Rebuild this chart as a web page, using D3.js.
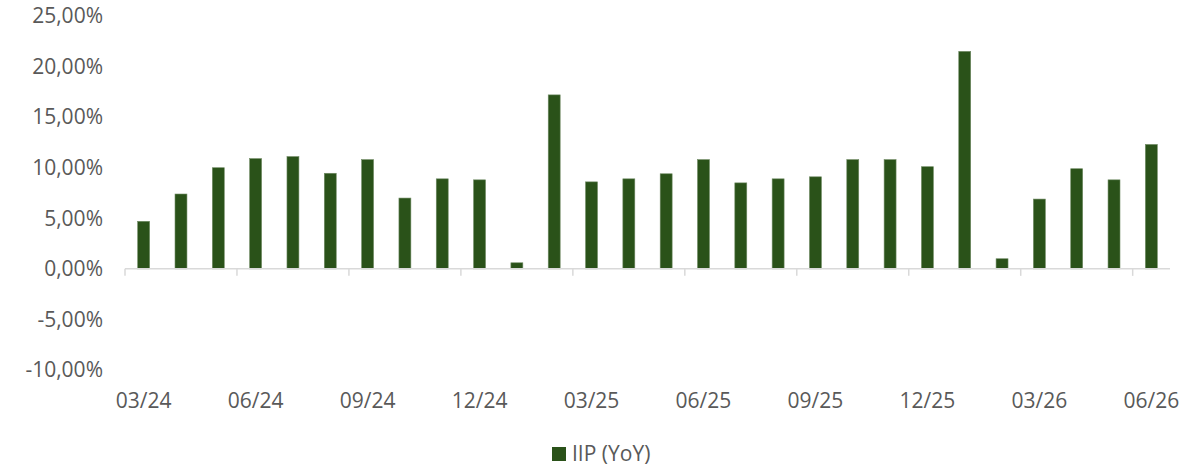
<!DOCTYPE html>
<html>
<head>
<meta charset="utf-8">
<script src="https://cdn.jsdelivr.net/npm/d3@7"></script>
<style>
  body { margin: 0; background: #fff; }
  text { font-family: "Open Sans", "Liberation Sans", sans-serif; fill: #595959; }
</style>
</head>
<body>
<svg id="chart" width="1198" height="468"></svg>
<script>
// monthly categories, 03/24 .. 06/26
var months = ["03/24","04/24","05/24","06/24","07/24","08/24","09/24","10/24","11/24","12/24",
              "01/25","02/25","03/25","04/25","05/25","06/25","07/25","08/25","09/25","10/25",
              "11/25","12/25","01/26","02/26","03/26","04/26","05/26","06/26"];
// IIP year-on-year change, percent
var iipYoY = [4.7, 7.4, 10.0, 10.9, 11.1, 9.45, 10.8, 7.0, 8.9, 8.8,
              0.6, 17.2, 8.6, 8.9, 9.4, 10.8, 8.5, 8.9, 9.1, 10.8,
              10.8, 10.1, 21.5, 1.0, 6.9, 9.9, 8.8, 12.3];
var yTicks = [-10, -5, 0, 5, 10, 15, 20, 25];
var seriesName = "IIP (YoY)";

var svg = d3.select("#chart");
var plotLeft = 125, plotRight = 1170, plotTop = 16, plotBottom = 370;
var barColor = "#2a5219";
var fontSize = "21px";

// comma decimals, plain hyphen for negatives
var locale = d3.formatLocale({decimal: ",", thousands: ".", grouping: [3], currency: ["", ""], minus: "-"});
var fmt = function(v) { return locale.format(".2f")(v) + "%"; };

var x = d3.scaleBand()
    .domain(months)
    .range([plotLeft, plotRight])
    .paddingInner(0.68)
    .paddingOuter(0.34);

var y = d3.scaleLinear()
    .domain([-10, 25])
    .range([plotBottom, plotTop]);

// y labels (no axis line, no gridlines)
svg.append("g")
  .selectAll("text")
  .data(yTicks)
  .enter().append("text")
    .attr("x", 103)
    .attr("y", function(d) { return y(d); })
    .attr("dy", "0.35em")
    .attr("text-anchor", "end")
    .style("font-size", fontSize)
    .text(fmt);

// bars
svg.append("g")
  .selectAll("rect")
  .data(iipYoY)
  .enter().append("rect")
    .attr("x", function(d, i) { return x(months[i]); })
    .attr("width", x.bandwidth())
    .attr("y", function(d) { return y(Math.max(0, d)); })
    .attr("height", function(d) { return Math.abs(y(d) - y(0)); })
    .attr("fill", barColor)
    .attr("stroke", "#6f8a63")
    .attr("stroke-width", 0.6);

// category axis at zero
var step = x.step();
var ax = svg.append("g");
ax.append("line")
    .attr("x1", plotLeft).attr("x2", plotRight)
    .attr("y1", y(0)).attr("y2", y(0))
    .attr("stroke", "#d9d9d9").attr("stroke-width", 1.5);

var tickIdx = months.map(function(m, i) { return i; }).filter(function(i) { return i % 3 === 0; });
ax.selectAll("line.tick")
  .data(tickIdx)
  .enter().append("line")
    .attr("class", "tick")
    .attr("x1", function(i) { return x(months[i]) - step * 0.34; })
    .attr("x2", function(i) { return x(months[i]) - step * 0.34; })
    .attr("y1", y(0)).attr("y2", y(0) + 7)
    .attr("stroke", "#d9d9d9").attr("stroke-width", 1.5);

ax.selectAll("text")
  .data(tickIdx)
  .enter().append("text")
    .attr("x", function(i) { return x(months[i]) + x.bandwidth() / 2; })
    .attr("y", 401)
    .attr("dy", "0.35em")
    .attr("text-anchor", "middle")
    .style("font-size", fontSize)
    .text(function(i) { return months[i]; });

// legend
var lg = svg.append("g").attr("transform", "translate(552,454)");
lg.append("rect").attr("x", 0).attr("y", -7).attr("width", 14).attr("height", 14).attr("fill", barColor);
lg.append("text").attr("x", 20).attr("y", 0).attr("dy", "0.35em")
    .style("font-size", fontSize).text(seriesName);
</script>
</body>
</html>
